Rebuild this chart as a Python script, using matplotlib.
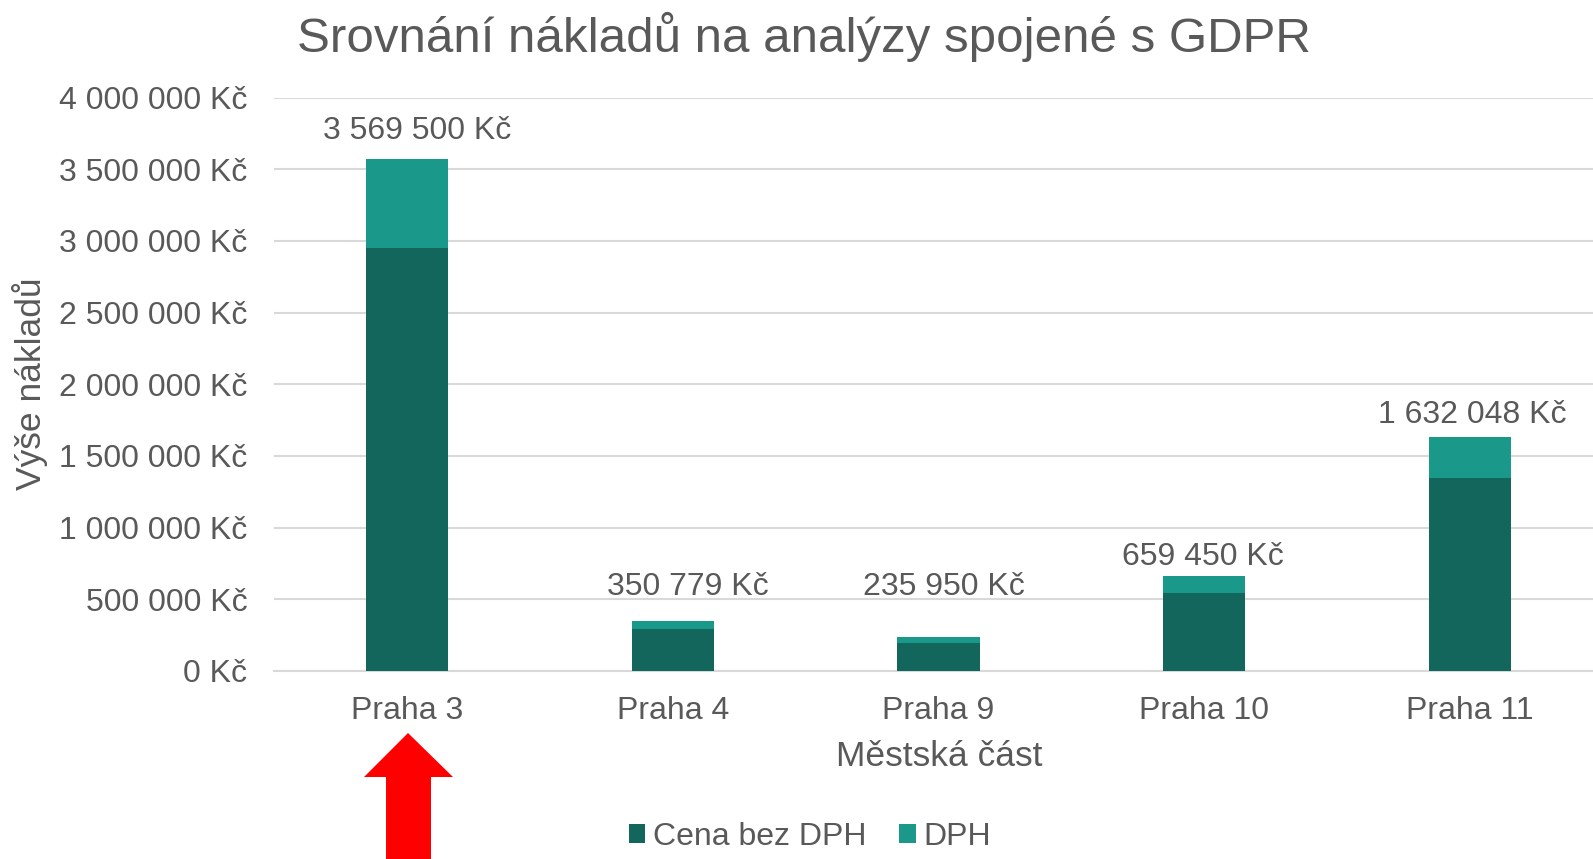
import matplotlib
matplotlib.use("Agg")
import matplotlib.pyplot as plt
from matplotlib.patches import Polygon
import numpy as np

plt.rcParams['font.family'] = ['Liberation Sans', 'DejaVu Sans']

categories = ["Praha 3", "Praha 4", "Praha 9", "Praha 10", "Praha 11"]
cena_bez_dph = [2950000, 289900, 195000, 545000, 1348800]
dph = [619500, 60879, 40950, 114450, 283248]
totals = [3569500, 350779, 235950, 659450, 1632048]
yticks = [0, 500000, 1000000, 1500000, 2000000, 2500000, 3000000, 3500000, 4000000]
label_dx_pt = [7.3, 11, 4, -1, 1.5]
label_dy_pt = [20, 24, 36, 14, 15.5]

DARK = "#12665C"
LIGHT = "#1A988A"
TXT = "#595959"
GRID = "#D9D9D9"

def fmt(v):
    return f"{int(v):,}".replace(",", " ") + " Kč"

W, H = 1593, 859
fig = plt.figure(figsize=(W / 100, H / 100), dpi=100)
ax = fig.add_axes([274 / W, 1 - 671 / H, (1603 - 274) / W, (671 - 97.5) / H])

x = np.arange(len(categories))
bw = 0.31
ax.bar(x, cena_bez_dph, bw, color=DARK, label="Cena bez DPH", zorder=3)
ax.bar(x, dph, bw, bottom=cena_bez_dph, color=LIGHT, label="DPH", zorder=3)

for xi, t, dx, dy in zip(x, totals, label_dx_pt, label_dy_pt):
    ax.annotate(fmt(t), (xi, t), xytext=(dx, dy), textcoords="offset points",
                ha="center", va="center", fontsize=23, color=TXT)

ax.set_xlim(-0.5, len(categories) - 0.5)
ax.set_ylim(0, 4000000)
ax.set_yticks(yticks)
ax.set_yticklabels([fmt(v) for v in yticks])
ax.set_xticks(x)
ax.set_xticklabels(categories)
ax.tick_params(axis='both', length=0, labelsize=23, labelcolor=TXT)
ax.tick_params(axis='y', pad=19)
ax.tick_params(axis='x', pad=18)
ax.grid(axis='y', color=GRID, linewidth=1.5, zorder=0)
for s in ['top', 'right', 'left']:
    ax.spines[s].set_visible(False)
ax.spines['bottom'].set_color(GRID)
ax.spines['bottom'].set_linewidth(1.5)

fig.text(804 / W, 1 - 37 / H, "Srovnání nákladů na analýzy spojené s GDPR",
         ha="center", va="center", fontsize=35.5, color=TXT)
fig.text(30 / W, 1 - 384 / H, "Výše nákladů", rotation=90,
         ha="center", va="center", fontsize=25.5, color=TXT)
fig.text(939 / W, 1 - 756 / H, "Městská část",
         ha="center", va="center", fontsize=25.5, color=TXT)

leg = fig.legend(loc="center", bbox_to_anchor=(810 / W, 1 - 837 / H), ncol=2,
                 frameon=False, fontsize=23, handlelength=0.52, handleheight=0.52,
                 handletextpad=0.25, columnspacing=1.0)
for t in leg.get_texts():
    t.set_color(TXT)

# red arrow decoration
pts = [(364, 777), (408, 733), (453, 777), (431, 777), (431, 862), (386, 862), (386, 777)]
arrow = Polygon([(px / W, 1 - py / H) for px, py in pts], closed=True,
                transform=fig.transFigure, facecolor="#FF0000", edgecolor="none")
fig.patches.append(arrow)

fig.savefig("out.png", dpi=100)
